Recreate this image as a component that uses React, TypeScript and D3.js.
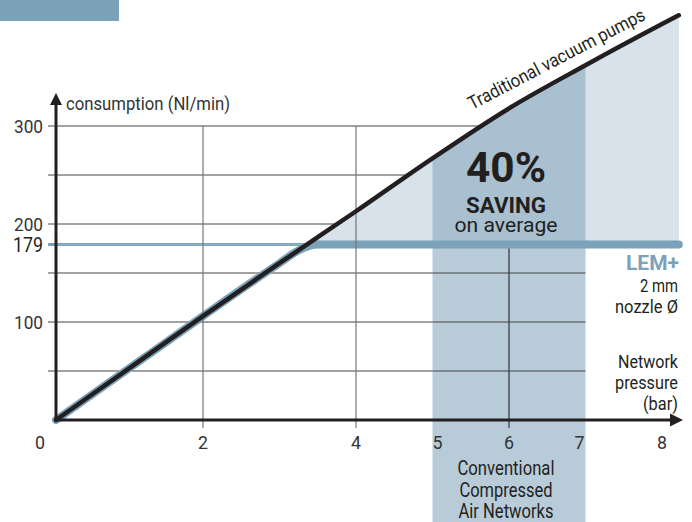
import React from "react";
import * as d3 from "d3";

// ---- data ----
const pressure = [0, 1, 2, 3, 4, 5, 6, 7, 8, 8.22];
const traditional = [0, 53, 106, 160, 213, 267, 318, 362, 404, 413];
const lemPressure = [0, 1, 2, 3, 3.25, 3.5, 8.22];
const lemValues = [0, 53, 106, 160, 173, 179, 179];
const lemLevel = 179;
const xTickValues = [0, 2, 4, 5, 6, 7, 8];
const yTickValues = [100, 200, 300];
const gridYValues = [50, 100, 150, 200, 250, 300];
const gridXValues = [2, 4, 6];
const bandRange = [5, 7];

const W = 692;
const H = 522;
const FONT = "Roboto, 'Liberation Sans', sans-serif";
const BLUE = "#7ba2b8";
const INK = "#231f20";
const LABEL = "#333333";

type TProps = {
  x: number;
  y: number;
  w?: number;
  size: number;
  anchor?: "start" | "middle" | "end";
  bold?: boolean;
  fill?: string;
  children: React.ReactNode;
};

function T({ x, y, w, size, anchor = "start", bold = false, fill = INK, children }: TProps) {
  return (
    <text
      x={x}
      y={y}
      textAnchor={anchor}
      fontSize={size}
      fontWeight={bold ? "bold" : "normal"}
      fill={fill}
      textLength={w}
      lengthAdjust={w ? "spacingAndGlyphs" : undefined}
    >
      {children}
    </text>
  );
}

export default function App() {
  const x = d3.scaleLinear().domain([0, 2, 4, 6, 8]).range([56, 203, 356, 509, 662]);
  const y = d3.scaleLinear().domain([0, 300]).range([420, 126]);
  const xEnd = pressure[pressure.length - 1];

  const tradPts: [number, number][] = pressure.map((p, i) => [p, traditional[i]]);
  const lemPts: [number, number][] = lemPressure.map((p, i) => [p, lemValues[i]]);

  const line = d3
    .line<[number, number]>()
    .x((d) => x(d[0]))
    .y((d) => y(d[1]))
    .curve(d3.curveMonotoneX);
  const area = d3
    .area<[number, number]>()
    .x((d) => x(d[0]))
    .y0(y(lemLevel))
    .y1((d) => y(d[1]))
    .curve(d3.curveMonotoneX);

  const yL = y(lemLevel);
  const x0 = x(0);
  const y0 = y(0);
  const gridRight = x(bandRange[1]);

  return (
    <svg
      width={W}
      height={H}
      style={{ position: "absolute", left: 0, top: 0, background: "#fff" }}
      fontFamily={FONT}
    >
      <defs>
        <clipPath id="aboveLem">
          <rect x={0} y={0} width={W} height={yL} />
        </clipPath>
        <clipPath id="bandAbove">
          <rect x={x(bandRange[0])} y={0} width={x(bandRange[1]) - x(bandRange[0])} height={yL} />
        </clipPath>
      </defs>

      <rect x={0} y={0} width={119} height={21} fill={BLUE} />

      {/* band below LEM line */}
      <rect
        x={x(bandRange[0])}
        y={yL}
        width={x(bandRange[1]) - x(bandRange[0])}
        height={H - yL}
        fill="#b8cbd9"
      />

      {/* horizontal gridlines */}
      {gridYValues.map((v) => (
        <line key={"gy" + v} x1={48} x2={gridRight} y1={y(v)} y2={y(v)} stroke="#444" strokeWidth={1} />
      ))}

      {/* reference 179 line */}
      <line x1={48} x2={x(xEnd)} y1={yL} y2={yL} stroke={BLUE} strokeWidth={3} />

      {/* saving area */}
      <path d={area(tradPts) || ""} fill="#d7e2eb" clipPath="url(#aboveLem)" />
      <path d={area(tradPts) || ""} fill="#a8c0d0" clipPath="url(#bandAbove)" />

      {/* LEM+ line */}
      <path d={line(lemPts) || ""} fill="none" stroke={BLUE} strokeWidth={8} strokeLinecap="round" strokeLinejoin="round" />

      {/* vertical gridlines */}
      {gridXValues.map((v) => (
        <line
          key={"gx" + v}
          x1={x(v)}
          x2={x(v)}
          y1={v === 6 ? yL + 4 : y(300)}
          y2={y0 + 8}
          stroke={v === 6 ? "#333" : "#777"}
          strokeWidth={1.2}
        />
      ))}

      {/* traditional line */}
      <path d={line(tradPts) || ""} fill="none" stroke={INK} strokeWidth={4.5} strokeLinecap="round" strokeLinejoin="round" />

      {/* axes */}
      <line x1={x0} x2={x0} y1={y0 + 1.5} y2={104} stroke={INK} strokeWidth={3} />
      <polygon points={`${x0 - 6},${105} ${x0},${93} ${x0 + 6},${105}`} fill={INK} />
      <line x1={x0 - 1.5} x2={672} y1={y0} y2={y0} stroke={INK} strokeWidth={3} />
      <polygon points={`${670},${y0 - 6.5} ${683},${y0} ${670},${y0 + 6.5}`} fill={INK} />

      {/* y tick labels */}
      {yTickValues.map((v) => (
        <T key={"yt" + v} x={43} y={y(v) + 7} w={29} size={19} anchor="end" fill={LABEL}>
          {v}
        </T>
      ))}
      <T x={43} y={yL + 7.5} w={30} size={20} anchor="end">
        {lemLevel}
      </T>
      <T x={66} y={110} w={164} size={18.5} fill={LABEL}>
        consumption (Nl/min)
      </T>

      {/* x tick labels */}
      {xTickValues.map((v) => {
        let dx = 0;
        if (v === 0) dx = -16;
        if (v === 5) dx = 5;
        if (v === 7) dx = -6;
        return (
          <T key={"xt" + v} x={x(v) + dx} y={449} w={10} size={19} anchor="middle" fill={LABEL}>
            {v}
          </T>
        );
      })}

      {/* Traditional label */}
      <g transform={`translate(472,110) rotate(-27.5)`}>
        <T x={0} y={0} w={197} size={18.5}>
          Traditional vacuum pumps
        </T>
      </g>

      {/* saving text */}
      <T x={506} y={182} w={80} size={42} anchor="middle" bold>
        40%
      </T>
      <T x={506} y={213} w={80} size={22} anchor="middle" bold>
        SAVING
      </T>
      <T x={506} y={232} w={103} size={20} anchor="middle">
        on average
      </T>

      {/* LEM+ labels */}
      <T x={679} y={270} w={53} size={21} anchor="end" bold fill={BLUE}>
        LEM+
      </T>
      <T x={678} y={292} w={38} size={18} anchor="end">
        2 mm
      </T>
      <T x={678} y={313} w={63} size={18} anchor="end">
        nozzle Ø
      </T>

      {/* x axis title */}
      <T x={678} y={368} w={60} size={18} anchor="end">
        Network
      </T>
      <T x={678} y={389} w={63} size={18} anchor="end">
        pressure
      </T>
      <T x={678} y={410} w={35} size={18} anchor="end">
        (bar)
      </T>

      {/* band label */}
      <T x={506} y={475} w={97} size={20.5} anchor="middle">
        Conventional
      </T>
      <T x={506} y={497} w={93} size={20.5} anchor="middle">
        Compressed
      </T>
      <T x={506} y={518} w={95} size={20.5} anchor="middle">
        Air Networks
      </T>
    </svg>
  );
}
